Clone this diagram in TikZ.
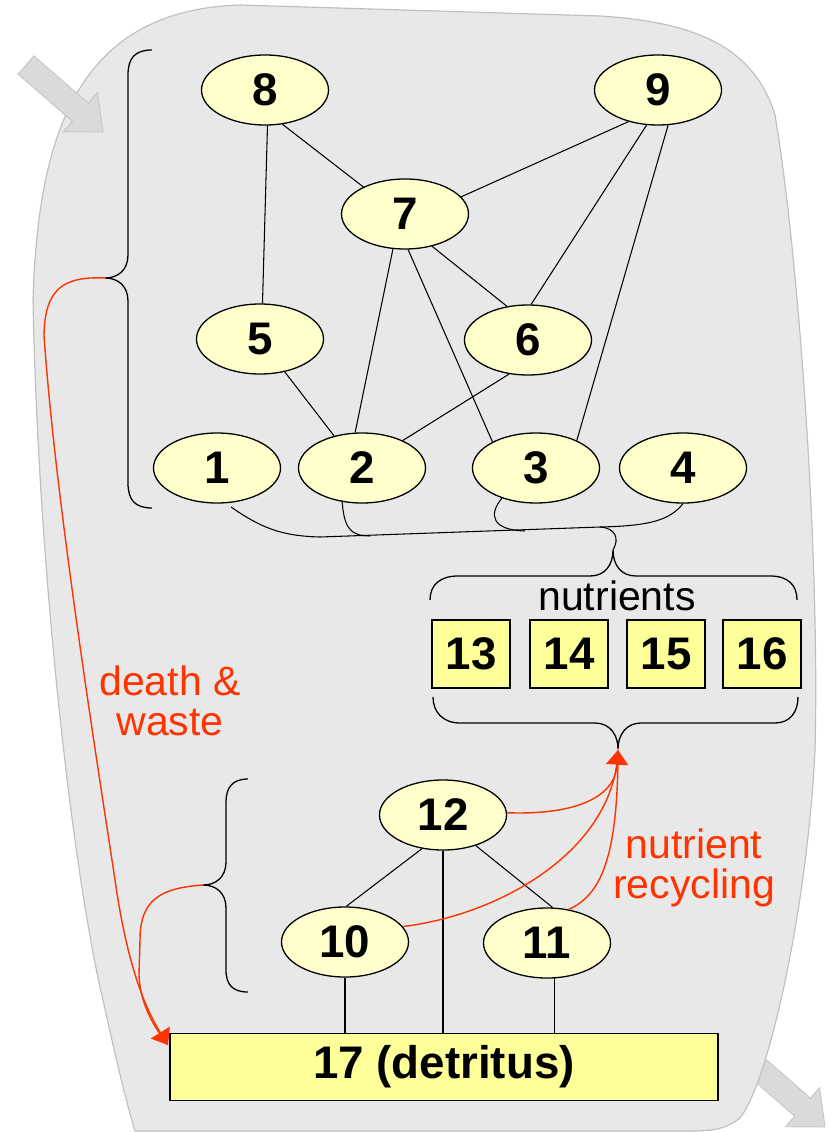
\documentclass[tikz,border=0pt]{standalone}
\usepackage{fontspec}
\setmainfont{Liberation Sans}
\usetikzlibrary{shapes.geometric,arrows.meta,calc}
\definecolor{blobfill}{HTML}{E8E8E8}
\definecolor{blobline}{HTML}{C0C0C0}
\definecolor{arrfill}{HTML}{DADADA}
\definecolor{arrline}{HTML}{C6C6C6}
\definecolor{ellfill}{HTML}{FFFFCC}
\definecolor{boxfill}{HTML}{FFFF99}
\definecolor{redc}{HTML}{FF3300}
\tikzset{
  ell/.style={ellipse, draw, line width=1.1pt, fill=ellfill, minimum width=3.81cm, minimum height=2.1cm, inner sep=0pt, font=\bfseries\fontsize{39}{39}\selectfont},
  sq/.style={rectangle, draw, line width=1.1pt, fill=boxfill, minimum width=2.34cm, minimum height=2.04cm, inner sep=0pt, font=\bfseries\fontsize{39}{39}\selectfont},
  edge/.style={line width=0.9pt},
  bracepath/.style={line width=1.1pt},
  redline/.style={draw=redc, line width=1.2pt},
  redarrow/.style={redline, -{Triangle[length=12.5pt,width=19pt]}},
  lbl/.style={font=\fontsize{35}{34}\selectfont, inner sep=0pt, align=center},
  grayarrow/.style={fill=arrfill, draw=arrline, line width=0.8pt}
}
\begin{document}
\begin{tikzpicture}[x=0.03cm,y=-0.03cm]
\useasboundingbox (0,0) rectangle (828,1132);
% outgoing arrow (behind blob)
\path[grayarrow] (751.1,1078) -- (794.6,1116.2) -- (785.4,1126.7) -- (825,1127) -- (819.6,1087.7) -- (810.4,1098.2) -- (766.9,1060) -- cycle;
% blob
\path[fill=blobfill, draw=blobline, line width=1pt]
  (33,300) .. controls (38,130) and (80,10) .. (240,5)
  -- (600,16) .. controls (700,22) and (755,50) .. (775,115)
  .. controls (798,250) and (820,550) .. (815,750)
  .. controls (808,900) and (770,1080) .. (740,1118)
  .. controls (725,1130) and (710,1131) .. (690,1131)
  -- (135,1131) .. controls (120,1080) and (110,1030) .. (100,987)
  .. controls (70,850) and (38,560) .. (33,300) -- cycle;
% incoming arrow
\path[grayarrow] (18.1,74.1) -- (72.5,121.4) -- (63.3,131.9) -- (103,132) -- (97.5,92.7) -- (88.3,103.2) -- (33.9,55.9) -- cycle;

% nodes
\node[ell] (n8) at (265,90) {8};
\node[ell] (n9) at (658,90) {9};
\node[ell] (n7) at (405,214) {7};
\node[ell] (n5) at (260,339) {5};
\node[ell] (n6) at (528,340) {6};
\node[ell] (n1) at (217,468) {1};
\node[ell] (n2) at (362,468) {2};
\node[ell] (n3) at (536,468) {3};
\node[ell] (n4) at (683,468) {4};
\node[ell] (n12) at (443,815) {12};
\node[ell] (n10) at (345,942) {10};
\node[ell] (n11) at (547,943) {11};

\node[sq] (b13) at (471,654) {13};
\node[sq] (b14) at (569,654) {14};
\node[sq] (b15) at (666,654) {15};
\node[sq] (b16) at (762,654) {16};
\node[rectangle, draw, line width=1.1pt, fill=boxfill, minimum width=16.44cm, minimum height=2.01cm, inner sep=0pt, font=\bfseries\fontsize{39}{39}\selectfont] (b17) at (444,1067) {17 (detritus)};

% food web edges
\draw[edge] (n8.-63) -- (n7.147);
\draw[edge] (n8.-86) -- (n5.86);
\draw[edge] (n9.-133) -- (n7.17);
\draw[edge] (n9.-108) -- (n6.85);
\draw[edge] (n9.-74) -- (n3.34);
\draw[edge] (n7.-109) -- (n2.101);
\draw[edge] (n7.-85) -- (n3.149);
\draw[edge] (n7.-50) -- (n6.122);
\draw[edge] (n5.-53) -- (n2.131);
\draw[edge] (n6.-119) -- (n2.34);
\draw[edge] (n12.-122) -- (n10.88);
\draw[edge] (n12.-43) -- (n11.81);
\draw[edge] (n12.south) -- (n12.south |- b17.north);
\draw[edge] (n10.south) -- (n10.south |- b17.north);
\draw[edge] (n11.-78) -- (n11.-78 |- b17.north);

% braces
\coordinate (tipA) at (105,278);
\coordinate (tipB) at (203,885);
\coordinate (tipN) at (613,550);
\coordinate (tipR) at (618,749);
\coordinate (merge) at (600,527);
\draw[bracepath] (152,50) .. controls (135,50) and (128,58) .. (128,75) -- (128,255)
  .. controls (128,270) and (118,278) .. (tipA) .. controls (118,278) and (128,286) .. (128,301)
  -- (128,483) .. controls (128,500) and (135,508) .. (152,508);
\draw[bracepath] (248,779) .. controls (233,779) and (226,787) .. (226,802) -- (226,862)
  .. controls (226,877) and (216,885) .. (tipB) .. controls (216,885) and (226,893) .. (226,908)
  -- (226,970) .. controls (226,985) and (233,992) .. (248,992);
\draw[bracepath] (430,600) .. controls (430,585) and (440,576) .. (458,576) -- (590,576)
  .. controls (605,576) and (613,565) .. (tipN) .. controls (613,565) and (621,576) .. (636,576)
  -- (770,576) .. controls (788,576) and (797,585) .. (797,600);
\draw[bracepath] (433,697) .. controls (433,712) and (443,723) .. (460,723) -- (595,723)
  .. controls (610,723) and (618,735) .. (tipR) .. controls (618,735) and (626,723) .. (641,723)
  -- (775,723) .. controls (790,723) and (798,712) .. (798,697);

% consumers to nutrients
\draw[edge] ($(n1)+(14,39)$) .. controls (260,527) and (280,536) .. (320,537) -- (merge)
  .. controls (615,528) and (620,538) .. (tipN);
\draw[edge] ($(n2)+(-20,32)$) .. controls (344,525) and (348,536) .. (370,536);
\draw[edge] ($(n3)+(-34,30)$) .. controls (488,515) and (492,530) .. (525,531);
\draw[edge] (n4.south) .. controls (670,520) and (650,526) .. (merge);

% labels
\node[lbl] (nut) at (617,610) [anchor=base] {nutrients};
\node[lbl, text=redc] (dw) at (170,735) [anchor=base] {death \&\\waste};
\node[lbl, text=redc] (nr) at (694,898) [anchor=base] {nutrient\\recycling};

% red flows
\coordinate (detr) at (168,1045);
\coordinate (nutin) at (618,750);
\draw[redarrow] (tipA) .. controls (62,276) and (45,290) .. (44,335)
  .. controls (55,500) and (100,780) .. (115,880)
  .. controls (125,950) and (140,1000) .. (detr);
\draw[redline] (tipB) .. controls (160,888) and (140,900) .. (140,940) -- (139,975)
  .. controls (140,1000) and (150,1022) .. (detr);
\draw[redarrow] (n12.2) .. controls (570,815) and (615,800) .. (nutin);
\draw[redline] (n10.15) .. controls (500,915) and (615,850) .. (nutin);
\draw[redline] (n11.57) .. controls (600,895) and (618,860) .. (nutin);
\end{tikzpicture}
\end{document}
